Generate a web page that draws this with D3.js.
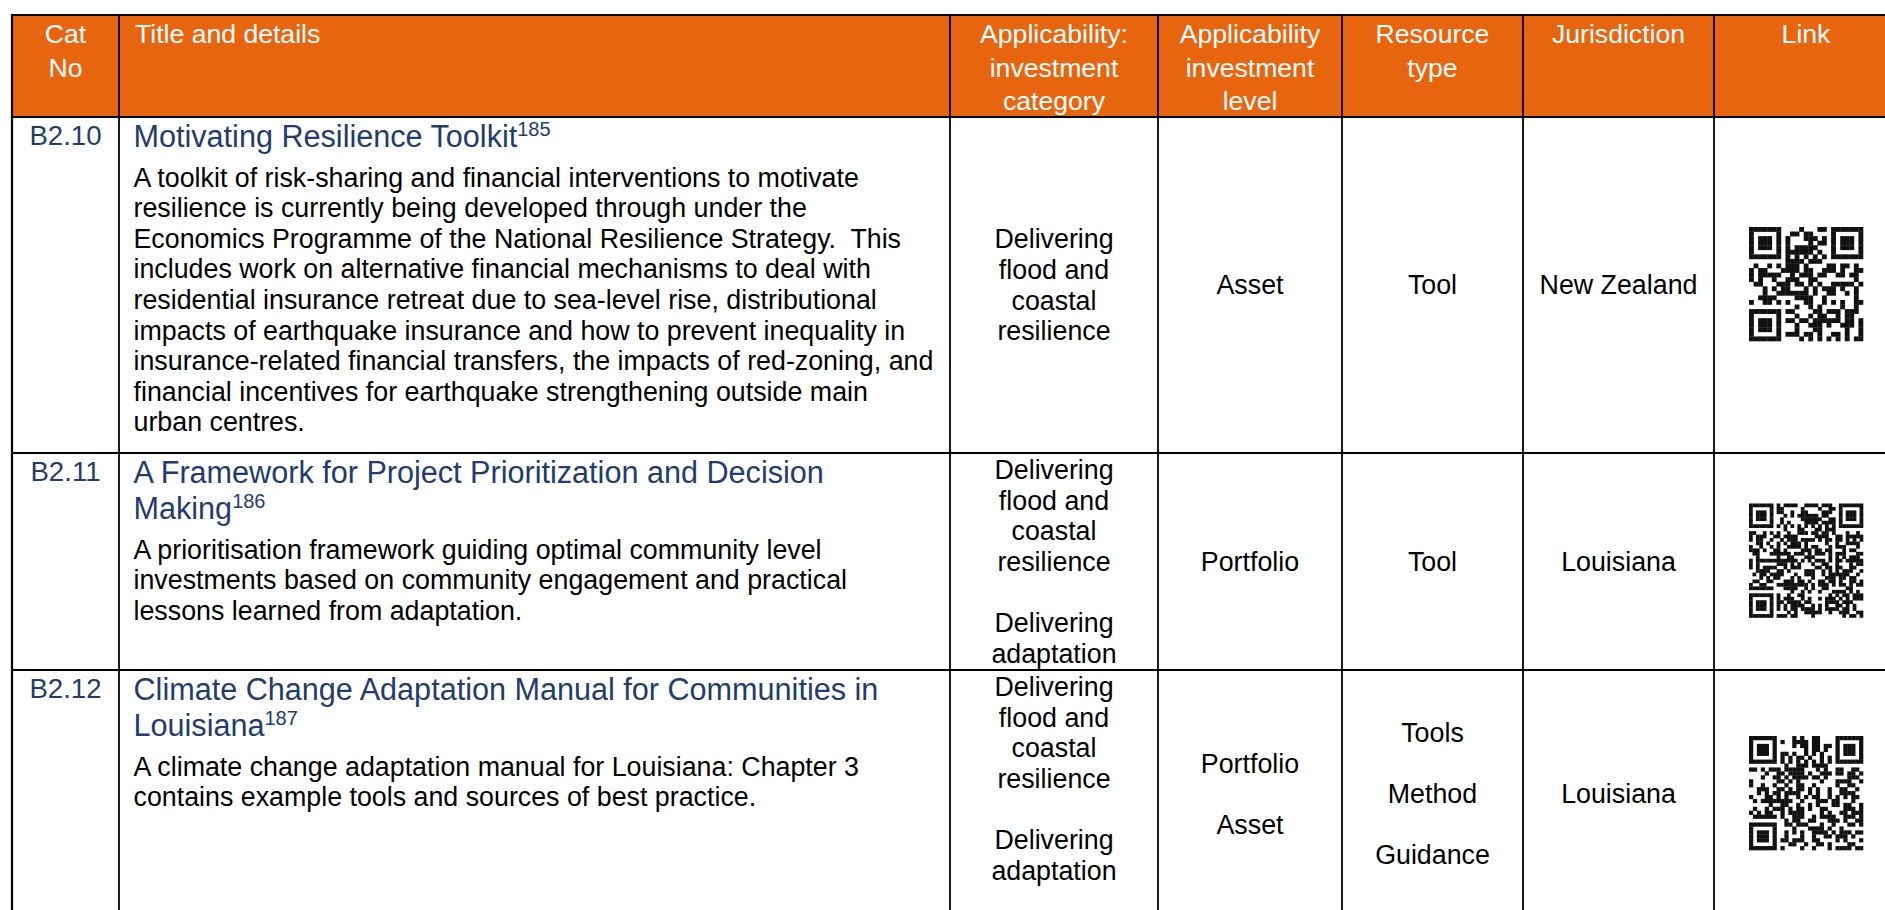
<!DOCTYPE html>
<html>
<head>
<meta charset="utf-8">
<script src="https://cdn.jsdelivr.net/npm/d3@7"></script>
<style>
  html, body { margin: 0; padding: 0; background: #fff; }
  svg { display: block; }
  text { font-family: "Liberation Sans", Arial, sans-serif; white-space: pre; }
</style>
</head>
<body>
<svg id="chart" width="1885" height="910"></svg>
<script>
// ---------- DATA ----------
const headers = [
  ["Cat", "No"],
  ["Title and details"],
  ["Applicability:", "investment", "category"],
  ["Applicability", "investment", "level"],
  ["Resource", "type"],
  ["Jurisdiction"],
  ["Link"]
];
const catNos = ["B2.10", "B2.11", "B2.12"];
const titles = [
  ["Motivating Resilience Toolkit"],
  ["A Framework for Project Prioritization and Decision", "Making"],
  ["Climate Change Adaptation Manual for Communities in", "Louisiana"]
];
const footnotes = ["185", "186", "187"];
const details = [
  ["A toolkit of risk-sharing and financial interventions to motivate",
   "resilience is currently being developed through under the",
   "Economics Programme of the National Resilience Strategy.  This",
   "includes work on alternative financial mechanisms to deal with",
   "residential insurance retreat due to sea-level rise, distributional",
   "impacts of earthquake insurance and how to prevent inequality in",
   "insurance-related financial transfers, the impacts of red-zoning, and",
   "financial incentives for earthquake strengthening outside main",
   "urban centres."],
  ["A prioritisation framework guiding optimal community level",
   "investments based on community engagement and practical",
   "lessons learned from adaptation."],
  ["A climate change adaptation manual for Louisiana: Chapter 3",
   "contains example tools and sources of best practice."]
];
const investmentCategory = [
  ["Delivering", "flood and", "coastal", "resilience"],
  ["Delivering", "flood and", "coastal", "resilience", "", "Delivering", "adaptation"],
  ["Delivering", "flood and", "coastal", "resilience", "", "Delivering", "adaptation", ""]
];
const investmentLevel = [["Asset"], ["Portfolio"], ["Portfolio", "", "Asset"]];
const resourceType = [["Tool"], ["Tool"], ["Tools", "", "Method", "", "Guidance"]];
const jurisdiction = [["New Zealand"], ["Louisiana"], ["Louisiana"]];
const qrModules = [25, 33, 29];

// ---------- LAYOUT ----------
const colEdges = [12, 119, 950, 1158, 1342, 1523, 1714, 1898];
const rowEdges = [15, 117, 453, 670, 918];
const ORANGE = "#e8650f";
const BLUE = "#213d6e";
const FS = 26.8, LH = 30.6;           // body
const CFS = 27.6;                     // cat no
const TFS = 30.6, TLH = 36;           // titles
const HFS = 26.6, HLH = 33.5;         // header
const QR = 114;

const svg = d3.select("#chart");
const x = d3.scaleOrdinal().domain(d3.range(8)).range(colEdges);
const y = d3.scaleOrdinal().domain(d3.range(5)).range(rowEdges);
const colMid = i => (x(i) + x(i + 1)) / 2;

// header background
svg.append("rect")
  .attr("x", x(0)).attr("y", y(0))
  .attr("width", x(7) - x(0)).attr("height", y(1) - y(0))
  .attr("fill", ORANGE);

// header texts
headers.forEach((lines, c) => {
  const t = svg.append("text")
    .attr("fill", "#fff").attr("font-size", HFS)
    .attr("text-anchor", c === 1 ? "start" : "middle");
  lines.forEach((ln, k) => {
    t.append("tspan")
      .attr("x", c === 1 ? x(1) + 16 : colMid(c))
      .attr("y", y(0) + 28 + k * HLH)
      .text(ln);
  });
});

// body rows
catNos.forEach((cat, r) => {
  const top = y(r + 1), bot = y(r + 2), mid = (top + bot) / 2;

  // Cat No
  svg.append("text")
    .attr("x", colMid(0)).attr("y", top + 28)
    .attr("text-anchor", "middle").attr("font-size", CFS).attr("fill", BLUE)
    .text(cat);

  // Title with footnote superscript
  const nT = titles[r].length;
  titles[r].forEach((ln, k) => {
    const t = svg.append("text")
      .attr("x", x(1) + 14.5).attr("y", top + 29.5 + k * TLH)
      .attr("font-size", TFS).attr("fill", BLUE);
    t.append("tspan").text(ln);
    if (k === nT - 1) {
      t.append("tspan").attr("font-size", 20).attr("dy", -11).text(footnotes[r]);
    }
  });

  // Details
  const firstBody = top + 29.5 + (nT - 1) * TLH + 40;
  const d = svg.append("text").attr("font-size", FS).attr("fill", "#000");
  details[r].forEach((ln, k) => {
    d.append("tspan").attr("x", x(1) + 14.5).attr("y", firstBody + k * LH).text(ln);
  });

  // centred columns
  [investmentCategory, investmentLevel, resourceType, jurisdiction].forEach((col, ci) => {
    const c = ci + 2;
    const lines = col[r];
    const n = lines.length;
    const g = svg.append("text")
      .attr("font-size", FS).attr("fill", "#000").attr("text-anchor", "middle");
    lines.forEach((ln, k) => {
      const cy = mid + (k - (n - 1) / 2) * LH;
      g.append("tspan").attr("x", colMid(c)).attr("y", cy + 0.3465 * FS).text(ln);
    });
  });

  // QR-like code (deterministic pattern derived from the footnote id)
  const n = qrModules[r];
  const m = QR / n;
  const qx = colMid(6) - QR / 2, qy = mid - QR / 2 - 1;
  const seed = +footnotes[r];
  const inFinder = (i, j) =>
    (i < 8 && j < 8) || (i < 8 && j >= n - 8) || (i >= n - 8 && j < 8);
  const cells = [];
  for (let i = 0; i < n; i++) {
    for (let j = 0; j < n; j++) {
      let on;
      if (inFinder(i, j)) {
        const fi = i < 8 ? i : i - (n - 7), fj = j < 8 ? j : j - (n - 7);
        if (fi < 0 || fj < 0 || fi > 6 || fj > 6) on = false;
        else {
          const ring = Math.min(fi, fj, 6 - fi, 6 - fj);
          on = ring !== 1;
        }
      } else if (i === 6 || j === 6) {
        on = ((i + j) % 2 === 0);
      } else {
        let h = (i * 73856093) ^ (j * 19349663) ^ (seed * 83492791);
        h = (h ^ (h >>> 13)) * 1274126177;
        h = h ^ (h >>> 16);
        on = (h & 7) < 4;
      }
      if (on) cells.push([i, j]);
    }
  }
  svg.append("g").selectAll("rect").data(cells).join("rect")
    .attr("x", dd => qx + dd[1] * m).attr("y", dd => qy + dd[0] * m)
    .attr("width", m + 0.3).attr("height", m + 0.3)
    .attr("fill", "#111");
});

// grid lines
const grid = svg.append("g").attr("stroke", "#000");
rowEdges.slice(0, 4).forEach(yy => {
  grid.append("line").attr("x1", x(0) - 1).attr("x2", x(7)).attr("y1", yy).attr("y2", yy)
    .attr("stroke-width", 2.2);
});
colEdges.forEach((xx, i) => {
  grid.append("line").attr("x1", xx).attr("x2", xx).attr("y1", y(0)).attr("y2", 910)
    .attr("stroke-width", i === 0 ? 2.2 : 1.8);
});
</script>
</body>
</html>
